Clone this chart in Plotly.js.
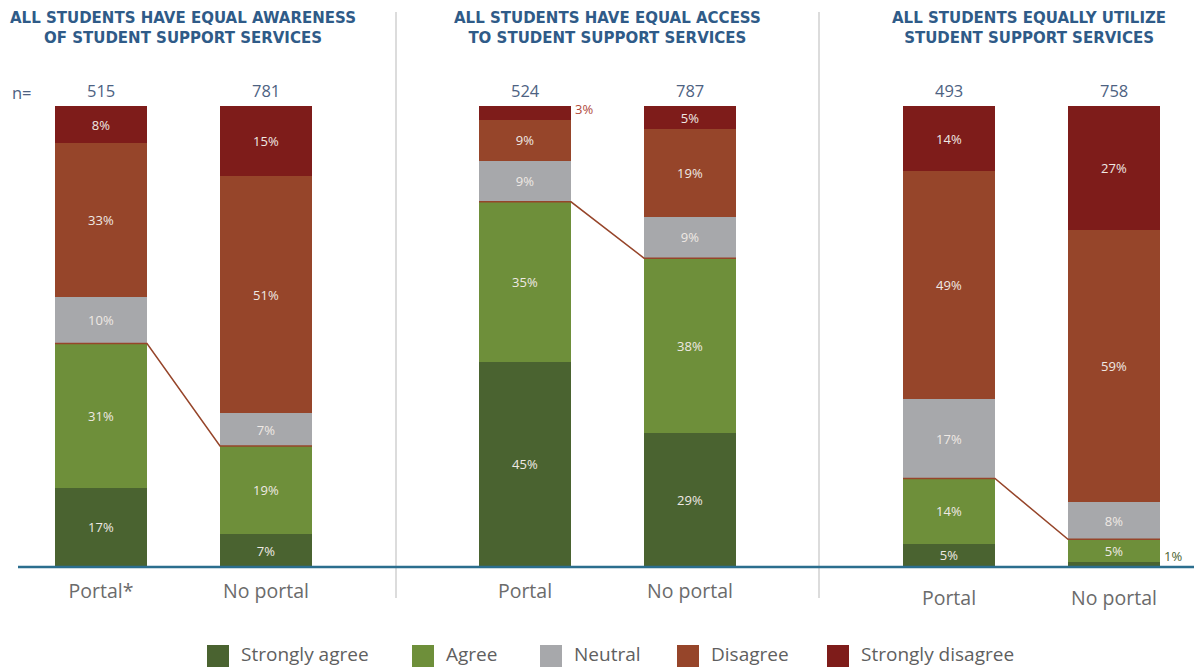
<!DOCTYPE html>
<html><head><meta charset="utf-8">
<script src="https://cdn.plot.ly/plotly-3.0.1.min.js"></script>
<style>html,body{margin:0;padding:0;background:#fff}#chart{width:1194px;height:668px}</style>
</head><body><div id="chart"></div>
<script>
// ---------- data ----------
const panelTitles = [
  'ALL STUDENTS HAVE EQUAL AWARENESS<br>OF STUDENT SUPPORT SERVICES',
  'ALL STUDENTS HAVE EQUAL ACCESS<br>TO STUDENT SUPPORT SERVICES',
  'ALL STUDENTS EQUALLY UTILIZE<br>STUDENT SUPPORT SERVICES'
];
const categories1 = ['Portal*', 'No portal'];
const categories2 = ['Portal', 'No portal'];
const categories3 = ['Portal', 'No portal'];
const nValues = [[515, 781], [524, 787], [493, 758]];
const seriesNames = ['Strongly agree', 'Agree', 'Neutral', 'Disagree', 'Strongly disagree'];
const stronglyAgree    = [[17, 7], [45, 29], [5, 1]];
const agree            = [[31, 19], [35, 38], [14, 5]];
const neutral          = [[10, 7], [9, 9], [17, 8]];
const disagree         = [[33, 51], [9, 19], [49, 59]];
const stronglyDisagree = [[8, 15], [3, 5], [14, 27]];

// ---------- style ----------
const colors = ['#4a6330', '#6e8f3a', '#a7a8ab', '#96452a', '#7e1c1a'];
const W = 1194, H = 668, TOP = 106, BASE = 567;
const barWidth = 92 / 165;
const panelDomainsPx = [[18, 396], [396, 819], [819, 1194]];
const firstBarCenterPx = [101, 525, 949];
const unitPx = 165;
const titleCenterPx = [183, 607, 1029];
const legendSwatchPx = [207, 412, 540, 677, 827];
const bodyFont = 'Open Sans, Lato, sans-serif';

const px = v => v / W;
const py = v => (BASE - v) / (BASE - TOP);

const allSeries = [stronglyAgree, agree, neutral, disagree, stronglyDisagree];
const catsByPanel = [categories1, categories2, categories3];
const traces = [];
const annotations = [];
const shapes = [];
const axisSuffix = ['', '2', '3'];

for (let p = 0; p < 3; p++) {
  const xa = 'x' + axisSuffix[p];
  const totals = [0, 1].map(i => allSeries.reduce((s, ser) => s + ser[p][i], 0));
  allSeries.forEach((ser, si) => {
    const vals = ser[p];
    traces.push({
      type: 'bar', x: [0, 1], y: vals, xaxis: xa, yaxis: 'y',
      width: barWidth, name: seriesNames[si], showlegend: false,
      marker: {color: colors[si], line: {width: 0}},
      text: vals.map(v => v >= 4 ? v + '%' : ''),
      textposition: 'inside', insidetextanchor: 'middle', textangle: 0,
      constraintext: 'none',
      textfont: {family: bodyFont, size: 13, color: '#efe9e4'},
      hoverinfo: 'skip'
    });
    vals.forEach((v, i) => {
      if (v < 4) {
        const below = allSeries.slice(0, si).reduce((s, s2) => s + s2[p][i], 0) / totals[i] * 100;
        annotations.push({
          xref: xa, yref: 'y', x: i + barWidth / 2, y: below,
          xanchor: 'left', yanchor: 'bottom', xshift: 2, showarrow: false,
          text: v + '%', font: {family: bodyFont, size: 13, color: si === 4 ? '#b04a3c' : colors[si]}
        });
      }
    });
  });
  const agreeTop = [0, 1].map(i => (stronglyAgree[p][i] + agree[p][i]) / totals[i] * 100);
  traces.push({
    type: 'scatter', mode: 'lines', xaxis: xa, yaxis: 'y', showlegend: false, hoverinfo: 'skip',
    x: [-barWidth / 2, barWidth / 2, 1 - barWidth / 2, 1 + barWidth / 2],
    y: [agreeTop[0], agreeTop[0], agreeTop[1], agreeTop[1]],
    line: {color: '#96452a', width: 1.5}
  });
  nValues[p].forEach((n, i) => {
    annotations.push({
      xref: xa, yref: 'paper', x: i, y: 1, yanchor: 'bottom', yshift: 2, showarrow: false,
      text: String(n), font: {family: bodyFont, size: 16.5, color: '#4d6282'}
    });
  });
  annotations.push({
    xref: 'paper', yref: 'paper', x: px(titleCenterPx[p]), y: py(7), xanchor: 'center', yanchor: 'top',
    showarrow: false, align: 'center', text: panelTitles[p],
    font: {family: 'DejaVu Sans, sans-serif', size: 15, weight: 'bold', color: '#2f5b88'}
  });
}
annotations.push({
  xref: 'paper', yref: 'paper', x: px(10), y: py(92), xanchor: 'left', yanchor: 'middle', showarrow: false,
  text: 'n=', font: {family: bodyFont, size: 16.5, color: '#4d6282'}
});

[396, 819].forEach(xp => shapes.push({
  type: 'line', xref: 'paper', yref: 'paper', x0: px(xp), x1: px(xp), y0: py(12), y1: py(598),
  line: {color: '#dcdcdc', width: 2}
}));
shapes.push({type: 'line', xref: 'paper', yref: 'paper', x0: px(18), x1: 1, y0: 0, y1: 0,
  line: {color: '#2b6e8e', width: 2.5}, layer: 'above'});

seriesNames.forEach((nm, i) => {
  shapes.push({type: 'rect', xref: 'paper', yref: 'paper', x0: px(legendSwatchPx[i]), x1: px(legendSwatchPx[i] + 22),
    y0: py(667), y1: py(645), fillcolor: colors[i], line: {width: 0}});
  annotations.push({xref: 'paper', yref: 'paper', x: px(legendSwatchPx[i] + 32), y: py(654),
    xanchor: 'left', yanchor: 'middle', showarrow: false, text: nm,
    font: {family: bodyFont, size: 19, color: '#5f5f5f'}});
});

const layout = {
  width: W, height: H, margin: {l: 0, r: 0, t: TOP, b: H - BASE},
  paper_bgcolor: '#fff', plot_bgcolor: '#fff',
  barmode: 'stack', barnorm: 'percent', showlegend: false,
  yaxis: {range: [0, 100], visible: false, fixedrange: true},
  annotations, shapes,
  font: {family: bodyFont}
};
for (let p = 0; p < 3; p++) {
  const d = panelDomainsPx[p];
  const c = firstBarCenterPx[p];
  layout['xaxis' + axisSuffix[p]] = {
    domain: [px(d[0]), px(d[1])],
    range: [-(c - d[0]) / unitPx, (d[1] - c) / unitPx],
    anchor: 'y', type: 'linear', tickmode: 'array', tickvals: [0, 1], ticktext: catsByPanel[p],
    showgrid: false, zeroline: false, showline: false, ticks: '',
    ticklabelstandoff: p === 2 ? 17 : 10,
    tickfont: {family: bodyFont, size: 19.5, color: '#6b6b6b'}, fixedrange: true
  };
}
Plotly.newPlot('chart', traces, layout, {displayModeBar: false, staticPlot: true});
</script>
</body></html>
